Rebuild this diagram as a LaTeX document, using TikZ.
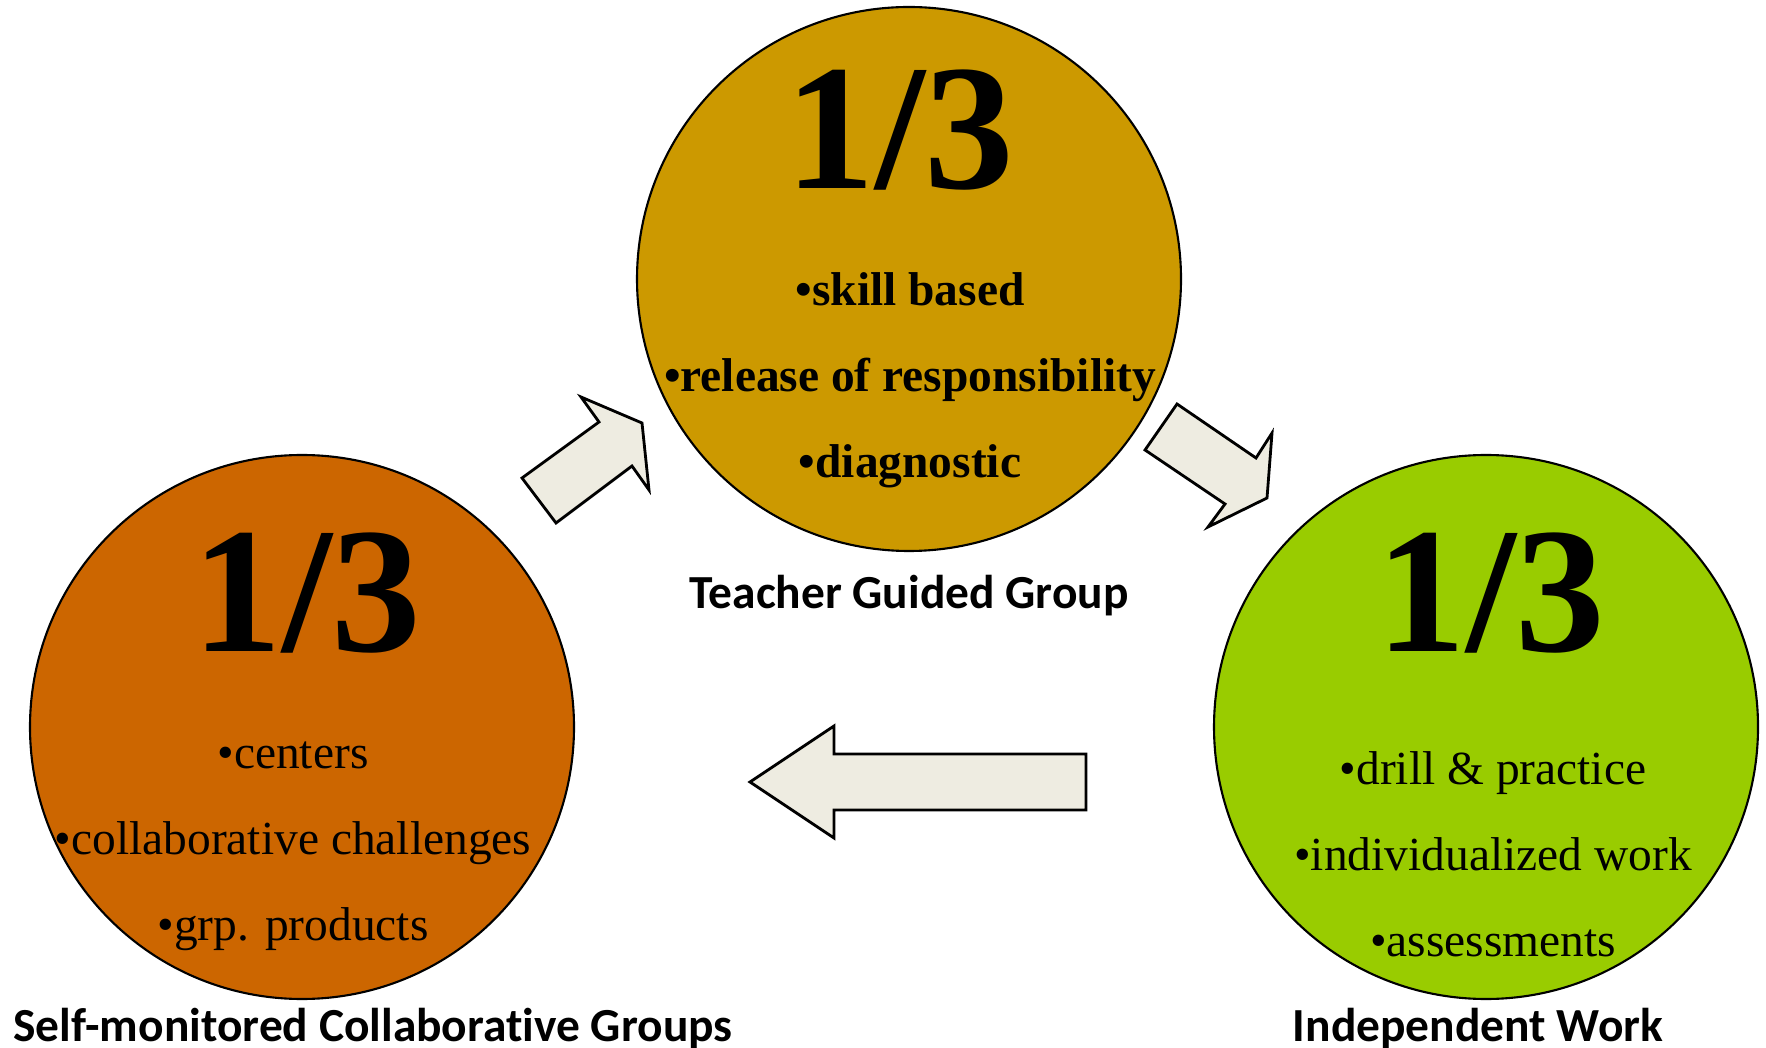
\documentclass[tikz,border=0pt]{standalone}
\usepackage{fontspec}
\setmainfont{Liberation Serif}
\newfontfamily\labelfont[Ligatures=NoCommon]{Carlito}

\definecolor{teachgold}{HTML}{CC9900}
\definecolor{selforange}{HTML}{CC6600}
\definecolor{indepgreen}{HTML}{99CC00}
\definecolor{arrowfill}{HTML}{EEECE1}

\tikzset{
	third/.style={circle,draw=black,line width=0.6pt,minimum size=54.4mm,inner sep=0pt},
	bigfrac/.style={anchor=base,font=\fontsize{51}{51}\selectfont\bfseries},
	itemline/.style={anchor=base,font=\fontsize{13.5}{16}\selectfont},
	itembold/.style={anchor=base,font=\fontsize{13.5}{16}\selectfont\bfseries},
	grouplabel/.style={anchor=base,font=\labelfont\bfseries\fontsize{13.5}{16}\selectfont},
	blockarrow/.style={fill=arrowfill,draw=black,line width=0.8pt,line join=miter}
}

\begin{document}
\begin{tikzpicture}[x=0.1mm,y=-0.1mm]
		\useasboundingbox (0,0) rectangle (1766,1048);
		
		% the three groups
		\node[third,fill=teachgold] (teacher) at (909,279) {};
		\node[third,fill=selforange] (selfgrp) at (302,727) {};
		\node[third,fill=indepgreen] (indep) at (1486,727) {};
		
		\node[bigfrac] (teachfrac) at (900,189) {1/3};
		\node[bigfrac] (selffrac) at (307,652) {1/3};
		\node[bigfrac] (indepfrac) at (1491,652) {1/3};
		
		% what goes on in each group
		\foreach \txt [count=\i] in {skill based, release of responsibility, diagnostic}
			\node[itembold] (teach\i) at (910,{306+(\i-1)*86}) {•\txt};
		\foreach \txt [count=\i] in {centers, collaborative challenges, grp. products}
			\node[itemline] (self\i) at (293,{768+(\i-1)*86}) {•\txt};
		\foreach \txt [count=\i] in {drill \& practice, individualized work, assessments}
			\node[itemline] (indep\i) at (1493,{784+(\i-1)*86}) {•\txt};
		
		\node[grouplabel] (teachlbl) at (909,609) {Teacher Guided Group};
		\node[grouplabel] (selflbl) at (373,1041) {Self-monitored Collaborative Groups};
		\node[grouplabel] (indeplbl) at (1478,1041) {Independent Work};
		
		% rotation arrows
		\draw[blockarrow] (522,478) -- (599,422) -- (581,397) -- (642,423) -- (649,490) -- (632,466) -- (556,523) -- cycle;
		\draw[blockarrow] (1177,404) -- (1256,458) -- (1272,433) -- (1267,498) -- (1208,527) -- (1225,504) -- (1145,450) -- cycle;
		\draw[blockarrow] (1086,754) -- (834,754) -- (834,726) -- (750,782) -- (834,838) -- (834,810) -- (1086,810) -- cycle;
	\end{tikzpicture}
\end{document}
